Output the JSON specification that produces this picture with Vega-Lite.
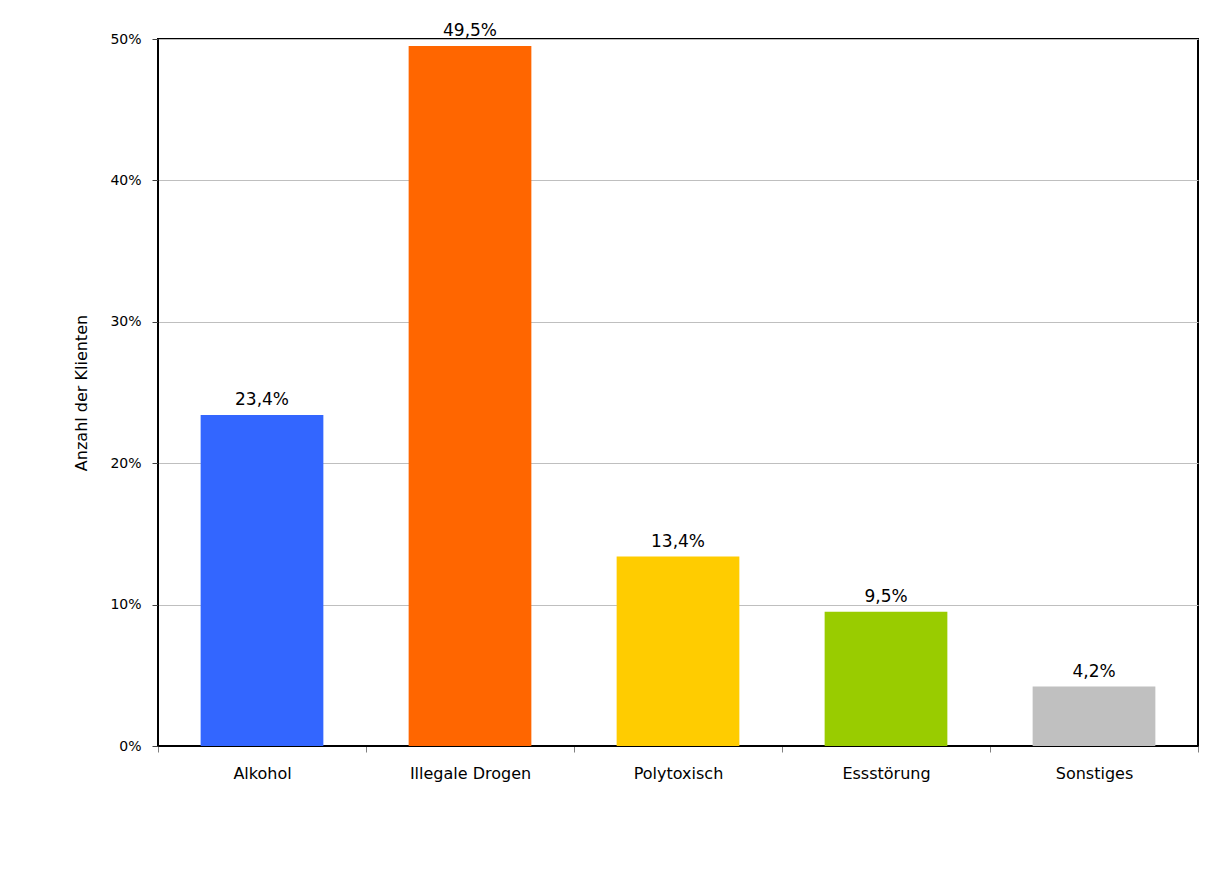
{
  "$schema": "https://vega.github.io/schema/vega-lite/v6.json",
  "autosize": {"type": "none"},
  "width": 1040,
  "height": 707,
  "padding": {"left": 158, "top": 39, "right": 15, "bottom": 133},
  "background": "white",
  "config": {
    "view": {"stroke": "black", "strokeWidth": 2},
    "font": "DejaVu Sans"
  },
  "data": {
    "values": [
      {"Kategorie": "Alkohol", "Anteil": 0.234, "Label": "23,4%", "Farbe": "#3366FF"},
      {"Kategorie": "Illegale Drogen", "Anteil": 0.495, "Label": "49,5%", "Farbe": "#FF6600"},
      {"Kategorie": "Polytoxisch", "Anteil": 0.134, "Label": "13,4%", "Farbe": "#FFCC00"},
      {"Kategorie": "Essstörung", "Anteil": 0.095, "Label": "9,5%", "Farbe": "#99CC00"},
      {"Kategorie": "Sonstiges", "Anteil": 0.042, "Label": "4,2%", "Farbe": "#C0C0C0"}
    ]
  },
  "encoding": {
    "x": {
      "field": "Kategorie",
      "type": "nominal",
      "sort": null,
      "scale": {"paddingInner": 0, "paddingOuter": 0},
      "axis": {
        "title": null,
        "labelAngle": 0,
        "labelFont": "DejaVu Sans",
        "labelFontSize": 16,
        "labelColor": "black",
        "labelPadding": 13,
        "tickBand": "extent",
        "tickColor": "#808080",
        "tickSize": 6,
        "domainColor": "black",
        "grid": false
      }
    },
    "y": {
      "field": "Anteil",
      "type": "quantitative",
      "scale": {"domain": [0, 0.5], "nice": false},
      "axis": {
        "title": "Anzahl der Klienten",
        "titleFont": "DejaVu Sans",
        "titleFontSize": 16,
        "titleFontWeight": "normal",
        "titleColor": "black",
        "titlePadding": 20,
        "format": ".0%",
        "values": [0, 0.1, 0.2, 0.3, 0.4, 0.5],
        "labelFont": "DejaVu Sans",
        "labelFontSize": 14,
        "labelColor": "black",
        "labelPadding": 11,
        "tickColor": "#404040",
        "tickSize": 6,
        "domainColor": "black",
        "grid": true,
        "gridColor": "#BFBFBF",
        "gridWidth": 1
      }
    }
  },
  "layer": [
    {
      "mark": {"type": "bar", "width": {"band": 0.59}},
      "encoding": {
        "color": {"field": "Farbe", "type": "nominal", "scale": null}
      }
    },
    {
      "mark": {"type": "text", "baseline": "alphabetic", "dy": -10, "fontSize": 17, "font": "DejaVu Sans", "color": "black"},
      "encoding": {
        "text": {"field": "Label"}
      }
    }
  ]
}
